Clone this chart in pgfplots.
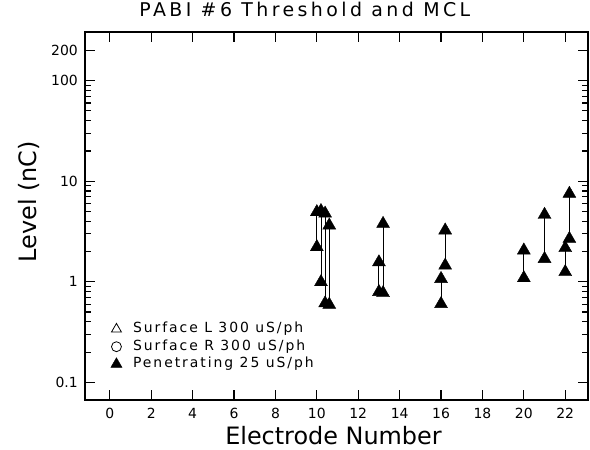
\documentclass[border=0pt]{standalone}
\usepackage{fontspec}
\setmainfont{DejaVu Sans}
\newfontfamily\spaced{DejaVu Sans}[LetterSpace=14]
\newfontfamily\titlefont{DejaVu Sans}[LetterSpace=18]
\usepackage{pgfplots}
\pgfplotsset{compat=1.18}
\begin{document}
\begin{tikzpicture}
\useasboundingbox (-85bp,-50bp) rectangle (505bp,400bp);
\begin{axis}[
  scale only axis, width=503bp, height=368bp,
  at={(0,0)}, anchor=south west,
  xmin=-1.2, xmax=23.1,
  ymode=log, ymin=0.0667, ymax=305,
  xtick={0,2,4,6,8,10,12,14,16,18,20,22},
  ytick={0.1,1,10,100,200},
  yticklabels={0.1,1,10,100,200},
  minor ytick={0.2,0.3,0.4,0.5,0.6,0.7,0.8,0.9,2,3,4,5,6,7,8,9,20,30,40,50,60,70,80,90},
  tick align=inside, tick pos=both, ticklabel pos=left,
  major tick length=10bp, minor tick length=6bp,
  every tick/.style={black, line width=1.1pt},
  axis line style={line width=1.2pt},
  tick label style={font=\fontsize{14}{16}\selectfont},
  /pgf/number format/assume math mode=true,
  yticklabel style={inner sep=0pt, xshift=-7bp},
  xticklabel style={inner sep=0pt, yshift=-8bp},
  xlabel={Electrode Number},
  xlabel style={font=\fontsize{24}{28}\selectfont, at={(axis description cs:0.494,-0.1215)}, anchor=base},
  ylabel={Level (nC)},
  ylabel style={font=\fontsize{24}{28}\selectfont, at={(axis description cs:-0.1123,0.539)}, anchor=center},
  title={PABI \#6 Threshold and MCL},
  title style={font=\titlefont\fontsize{19}{22}\selectfont, at={(axis description cs:0.437,1.027)}, anchor=base},
  legend style={at={(axis description cs:0.051,0.2106)}, anchor=north west, draw=none, fill=none, inner sep=0pt,
    font=\spaced\fontsize{14}{16}\selectfont, row sep=4.5bp, column sep=11bp,
    nodes={inner sep=0pt, text height=10bp, text depth=3bp}},
  legend image code/.code={\draw[#1] plot coordinates {(6bp,0bp)};},
  legend cell align=left,
]
\addlegendimage{only marks, mark=triangle, mark size=5.8, black, mark options={line width=0.8pt}}
\addlegendentry{Surface L 300 uS/ph}
\addlegendimage{only marks, mark=o, mark size=5, black, mark options={line width=0.8pt}}
\addlegendentry{Surface R 300 uS/ph}
\addlegendimage{only marks, mark=triangle*, mark size=6.5, black}
\addlegendentry{Penetrating 25 uS/ph}

\addplot[black, line width=0.9pt, forget plot] coordinates {(10.0,2.32) (10.0,5.17)};
\addplot[black, line width=0.9pt, forget plot] coordinates {(10.2,1.04) (10.2,5.30)};
\addplot[black, line width=0.9pt, forget plot] coordinates {(10.4,0.64) (10.4,5.00)};
\addplot[black, line width=0.9pt, forget plot] coordinates {(10.6,0.62) (10.6,3.81)};
\addplot[black, line width=0.9pt, forget plot] coordinates {(13.0,0.83) (13.0,1.64)};
\addplot[black, line width=0.9pt, forget plot] coordinates {(13.2,0.81) (13.2,3.95)};
\addplot[black, line width=0.9pt, forget plot] coordinates {(16.0,0.63) (16.0,1.12)};
\addplot[black, line width=0.9pt, forget plot] coordinates {(16.2,1.52) (16.2,3.40)};
\addplot[black, line width=0.9pt, forget plot] coordinates {(20.0,1.14) (20.0,2.15)};
\addplot[black, line width=0.9pt, forget plot] coordinates {(21.0,1.77) (21.0,4.86)};
\addplot[black, line width=0.9pt, forget plot] coordinates {(22.0,1.31) (22.0,2.27)};
\addplot[black, line width=0.9pt, forget plot] coordinates {(22.2,2.80) (22.2,7.87)};

\addplot[only marks, mark=triangle*, mark size=7.5, black, mark options={fill=black, yshift=-2bp}, forget plot] coordinates {
(10.0,2.32) (10.0,5.17)
(10.2,1.04) (10.2,5.30)
(10.4,0.64) (10.4,5.00)
(10.6,0.62) (10.6,3.81)
(13.0,0.83) (13.0,1.64)
(13.2,0.81) (13.2,3.95)
(16.0,0.63) (16.0,1.12)
(16.2,1.52) (16.2,3.40)
(20.0,1.14) (20.0,2.15)
(21.0,1.77) (21.0,4.86)
(22.0,1.31) (22.0,2.27)
(22.2,2.80) (22.2,7.87)
};
\end{axis}
\end{tikzpicture}
\end{document}
